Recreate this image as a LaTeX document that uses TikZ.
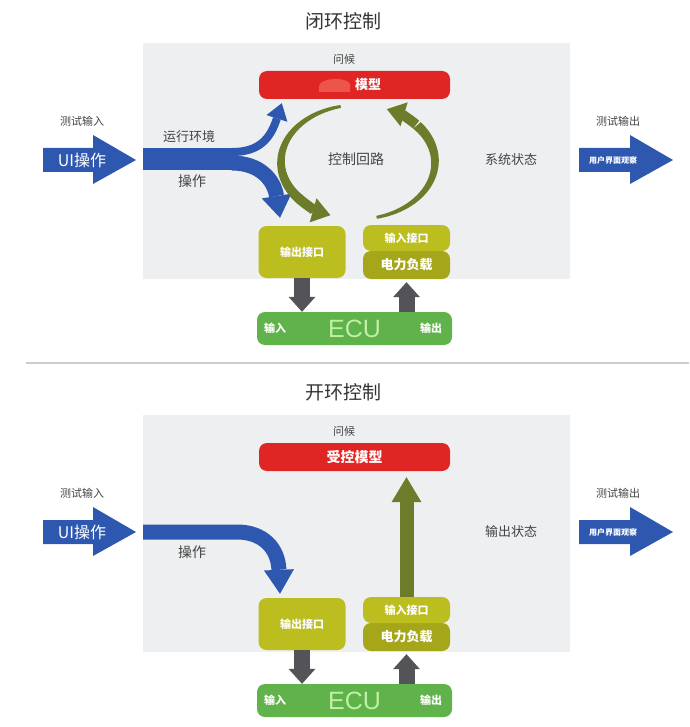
\documentclass[tikz,border=0pt]{standalone}
\usepackage{fontspec}
\setmainfont{Noto Sans CJK SC}
\newfontfamily\ecufont{Liberation Sans}
\usetikzlibrary{arrows.meta, positioning, calc}

\definecolor{uiblue}{RGB}{46, 88, 176}
\definecolor{modelred}{RGB}{224, 38, 36}
\definecolor{blobred}{RGB}{236, 84, 76}
\definecolor{loopolive}{RGB}{108, 124, 42}
\definecolor{portyellow}{RGB}{188, 190, 32}
\definecolor{loadolive}{RGB}{166, 166, 26}
\definecolor{ecugreen}{RGB}{96, 178, 74}
\definecolor{ecutext}{RGB}{190, 240, 165}
\definecolor{panelgray}{RGB}{238, 239, 240}
\definecolor{pipegray}{RGB}{84, 84, 88}
\definecolor{labelgray}{RGB}{68, 68, 68}
\definecolor{rulegray}{RGB}{205, 205, 205}

\begin{document}
\begin{tikzpicture}[x=1pt, y=-1pt,
    lbl/.style={text=labelgray, inner sep=0pt, font=\fontsize{#1}{#1}\selectfont},
    lbl/.default=11,
    blk/.style={rounded corners=8pt, inner sep=0pt, text=white, font=\fontsize{11}{13}\selectfont\bfseries},
    redbox/.style={blk, fill=modelred, minimum width=191pt, minimum height=28pt},
    portbox/.style={blk, fill=portyellow, minimum width=87pt},
    loadbox/.style={blk, fill=loadolive, minimum width=87pt, minimum height=28pt, font=\fontsize{13}{15}\selectfont\bfseries},
    ecubox/.style={blk, fill=ecugreen, minimum width=195pt, minimum height=33pt, text=ecutext, font=\ecufont\fontsize{25}{27}\selectfont},
    ecutag/.style={text=white, inner sep=0pt, font=\fontsize{11}{13}\selectfont\bfseries},
    pipe/.style={pipegray, line width=16pt, -{Triangle[length=15pt, width=27pt, line width=0pt]}},
    flow/.style={uiblue, line width=#1},
  ]
  \useasboundingbox (0,0) rectangle (689,727);

  % panels and divider
  \fill[panelgray] (143,43) rectangle (570,279);
  \fill[panelgray] (143,415) rectangle (570,652);
  \draw[rulegray, line width=2pt] (26,363) -- (689,363);

  \node[lbl=19, text=black!80] (titleA) at (343,21) {闭环控制};
  \node[lbl=19, text=black!80] (titleB) at (343,392) {开环控制};

  % parts that both panels share
  \foreach \dy/\state/\nm in {0/系统状态/A, 372/输出状态/B} {
    % test input
    \node[lbl] (testin\nm) at (82,121+\dy) {测试输入};
    \fill[uiblue] (43,148+\dy) -- (93,148+\dy) -- (93,135+\dy) -- (136,160+\dy)
      -- (93,184+\dy) -- (93,172+\dy) -- (43,172+\dy) -- cycle;
    \node[lbl=16, text=white] (uiop\nm) at (82,160+\dy) {UI操作};
    % test output
    \node[lbl] (testout\nm) at (618,121+\dy) {测试输出};
    \fill[uiblue] (579,148+\dy) -- (630,148+\dy) -- (630,135+\dy) -- (673,160+\dy)
      -- (630,184+\dy) -- (630,172+\dy) -- (579,172+\dy) -- cycle;
    \node[ecutag, font=\fontsize{8}{9}\selectfont\bfseries] (uiview\nm) at (613,160+\dy) {用户界面观察};
    \node[lbl=13] (state\nm) at (511,160+\dy) {\state};

    % plant model
    \node[lbl] (greet\nm) at (344,59+\dy) {问候};
    \node[redbox] (model\nm) at (354.5,85+\dy) {};

    % interfaces and ECU
    \node[portbox, minimum height=52pt] (outport\nm) at (302,252+\dy) {输出接口};
    \node[loadbox] (load\nm) at (406.5,265+\dy) {电力负载};
    \node[portbox, minimum height=26pt] (inport\nm) at (406.5,238+\dy) {输入接口};
    \node[ecubox] (ecu\nm) at (354.5,328.5+\dy) {ECU};
    \node[ecutag, right=7pt of ecu\nm.west] (ecuin\nm) {输入};
    \node[ecutag, left=10pt of ecu\nm.east] (ecuout\nm) {输出};

    \draw[pipe] (outport\nm.south) -- (outport\nm.south |- ecu\nm.north);
    \draw[pipe] (load\nm.south |- ecu\nm.north) -- ([yshift=-3pt]load\nm.south);
  }

  % closed loop: model text
  \fill[blobred] (319,92) -- (319,86) .. controls (320,78) and (346,76) .. (350,84) -- (350,92) -- cycle;
  \node[blk, font=\fontsize{13}{15}\selectfont\bfseries] (modeltxtA) at (368,85) {模型};

  % closed loop: operation flow splits
  \coordinate (splitA) at (238,159);
  \draw[flow=22pt] (143,159) -- (splitA);
  \draw[flow=8pt, -{Triangle[length=16pt, width=22pt, line width=0pt]}]
    (232,152) .. controls (258,152) and (270,140) .. ([xshift=23pt, yshift=-4pt]modelA.south west);
  \draw[flow=15pt, -{Triangle[length=22pt, width=30pt, line width=0pt]}]
    (232,163) .. controls (260,163) and (274,180) .. ([xshift=-22pt, yshift=8pt]outportA.north);
  \node[lbl=13] (envA) at (189,137) {运行环境};
  \node[lbl=14] (opA) at (192,181) {操作};

  % control loop arcs (tapered)
  \fill[loopolive] plot[domain=257:140, samples=40]
      ({358+(77+1.5+3.5*(257-\x)/117)*cos(\x)}, {162+(57+1.5+3.5*(257-\x)/117)*sin(\x)})
    -- plot[domain=140:257, samples=40]
      ({358+(77-1.5-3.5*(257-\x)/117)*cos(\x)}, {162+(57-1.5-3.5*(257-\x)/117)*sin(\x)}) -- cycle;
  \draw[loopolive, line width=10pt, -{Triangle[length=18pt, width=25pt, line width=0pt]}]
    (358,162) ++(141:77 and 57) arc[start angle=141, end angle=111, x radius=77, y radius=57];
  \fill[loopolive] plot[domain=76:-40, samples=40]
      ({358+(77+1.5+3.5*(76-\x)/116)*cos(\x)}, {162+(57+1.5+3.5*(76-\x)/116)*sin(\x)})
    -- plot[domain=-40:76, samples=40]
      ({358+(77-1.5-3.5*(76-\x)/116)*cos(\x)}, {162+(57-1.5-3.5*(76-\x)/116)*sin(\x)}) -- cycle;
  \draw[loopolive, line width=10pt, -{Triangle[length=18pt, width=25pt, line width=0pt]}]
    (358,162) ++(-41:77 and 57) arc[start angle=-41, end angle=-68, x radius=77, y radius=57];
  \node[lbl=14] (loopA) at (356,159) {控制回路};

  % open loop
  \node[blk, font=\fontsize{14}{16}\selectfont\bfseries] (modeltxtB) at (modelB) {受控模型};
  \draw[flow=15pt, -{Triangle[length=24pt, width=30pt, line width=0pt]}]
    (143,532) -- (237,532) .. controls (263,532) and (278,548) .. ([xshift=-22pt, yshift=4pt]outportB.north);
  \node[lbl=14] (opB) at (192,552) {操作};
  \draw[loopolive, line width=14pt, -{Triangle[length=25pt, width=30pt, line width=0pt]}]
    (inportB.north) -- ($(inportB.north |- modelB.south)+(0,6)$);
\end{tikzpicture}
\end{document}
